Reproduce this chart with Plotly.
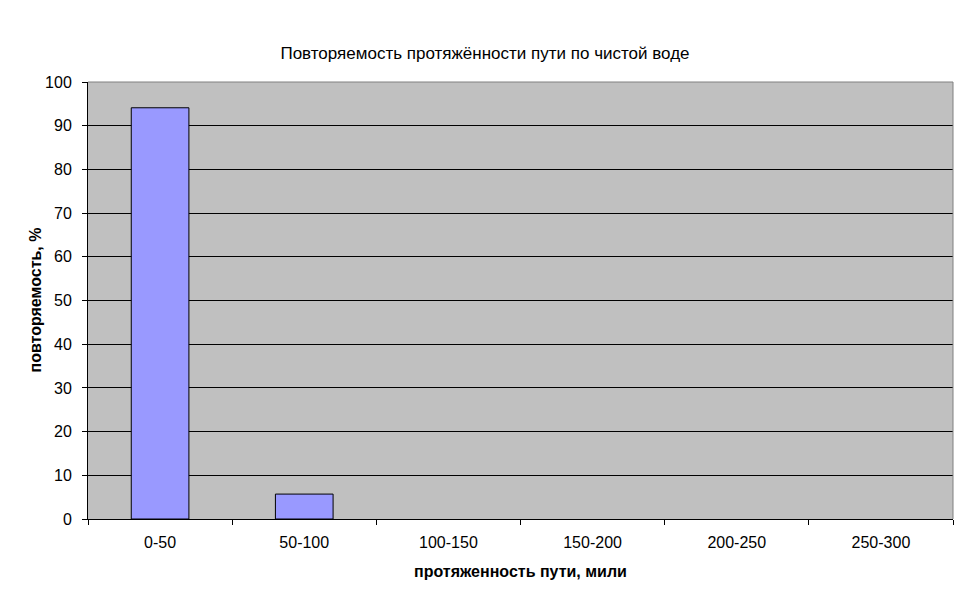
import plotly.graph_objects as go

categories = ["0-50", "50-100", "100-150", "150-200", "200-250", "250-300"]
values = [94.1, 5.7, 0, 0, 0, 0]
y_ticks = list(range(0, 101, 10))

title_text = "Повторяемость протяжённости пути по чистой воде"
x_title = "протяженность пути, мили"
y_title = "повторяемость, %"

FONT = "Liberation Sans, Arial, sans-serif"
OFF = 8  # page body margin
L, R, T, B = 88 - OFF, 969 + OFF - 953, 82 - OFF, 603 + OFF - 519
PW, PH = 969 - L - R, 603 - T - B

fig = go.Figure()
fig.add_trace(go.Bar(
    x=categories, y=values,
    marker=dict(color="#9999FF",
                line=dict(color="black", width=[1 if v > 0 else 0 for v in values])),
))

fig.update_layout(
    width=969, height=603,
    margin=dict(l=L, r=R, t=T, b=B, autoexpand=False),
    paper_bgcolor="white", plot_bgcolor="#C0C0C0",
    bargap=0.6,
    showlegend=False,
    font=dict(family=FONT, size=16, color="black"),
    title=dict(text=title_text, x=(485 - OFF) / 969, xanchor="center",
               y=1 - (53 - OFF) / 603, yanchor="middle",
               font=dict(family=FONT, size=17, color="black")),
)
fig.update_xaxes(
    type="category", showgrid=False, showline=True, linecolor="black", linewidth=1,
    ticks="outside", tickson="boundaries", ticklen=5, tickcolor="black",
    tickfont=dict(size=16), automargin=False, ticklabelstandoff=9,
)
fig.update_yaxes(
    range=[0, 100], tickvals=y_ticks, showgrid=True, gridcolor="black", gridwidth=1,
    showline=True, linecolor="black", linewidth=1, zeroline=False,
    ticks="outside", ticklen=5, tickcolor="black",
    tickfont=dict(size=16), automargin=False, ticklabelstandoff=7,
)
# axis titles
fig.add_annotation(text="<b>" + x_title + "</b>", xref="paper", yref="paper",
                   x=0.5, y=-(571 - 519) / PH, xanchor="center", yanchor="middle",
                   showarrow=False, font=dict(size=16))
fig.add_annotation(text="<b>" + y_title + "</b>", xref="paper", yref="paper",
                   x=-(88 - 35) / PW, y=0.5, xanchor="center", yanchor="middle",
                   textangle=-90, showarrow=False, font=dict(size=16))
# grey plot-area border on top and right
fig.add_shape(type="line", xref="paper", yref="paper", x0=0, x1=1, y0=1, y1=1,
              line=dict(color="#808080", width=1), layer="above")
fig.add_shape(type="line", xref="paper", yref="paper", x0=1, x1=1, y0=0, y1=1,
              line=dict(color="#808080", width=1), layer="above")

fig.write_html("out.html")
